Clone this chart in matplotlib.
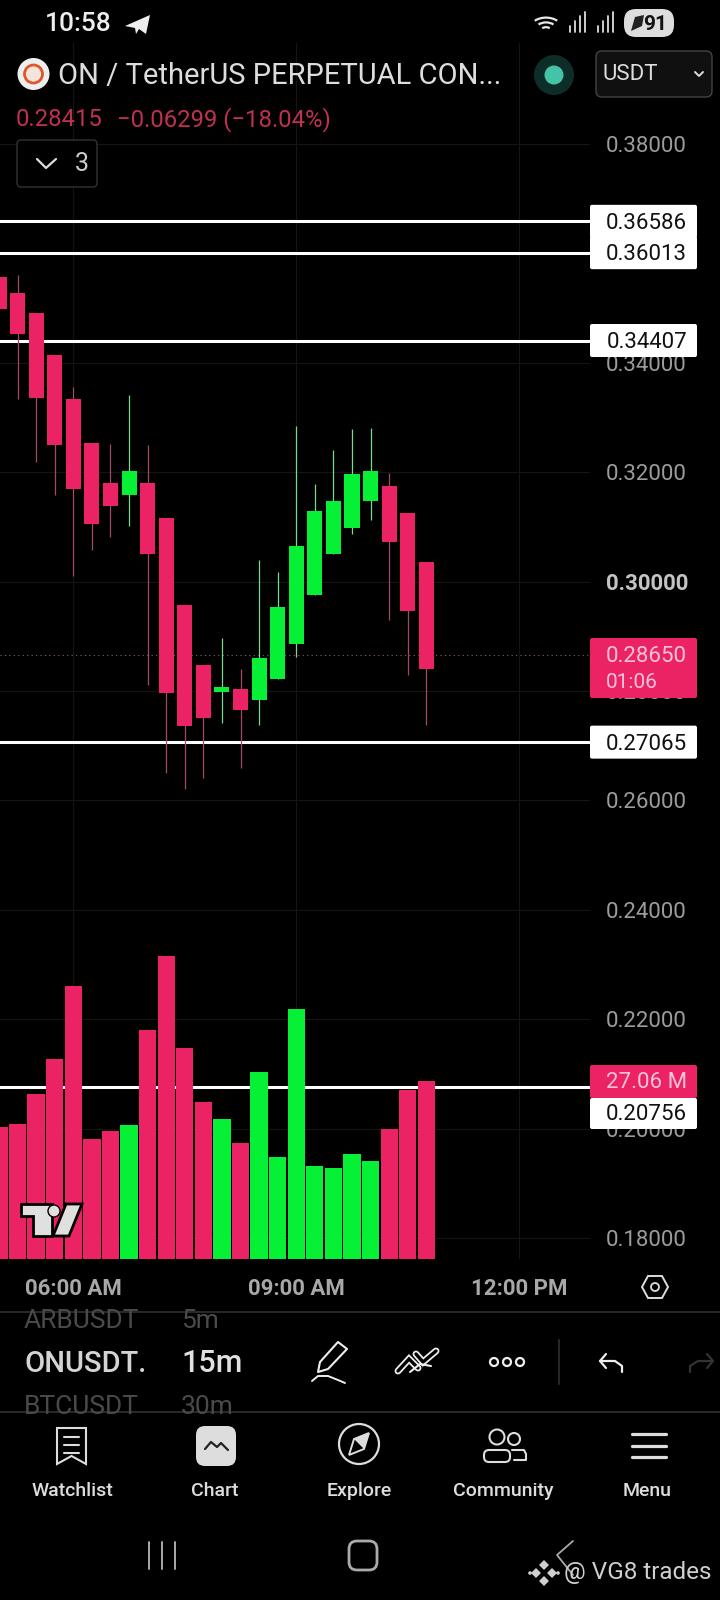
import matplotlib
matplotlib.use('Agg')
import matplotlib.pyplot as plt
from matplotlib.patches import Rectangle, FancyBboxPatch, Circle, Polygon, Arc

plt.rcParams['font.family'] = ['Roboto', 'DejaVu Sans']

### data (15m bars)
bar_idx = list(range(24))
opens = [.35577, .35275, .34910, .34135, .33330, .32537, .31800, .31586, .31800, .31164, .29571, .28476,
         .27985, .28035, .27840, .28218, .28866, .29760, .30503, .30982, .31473, .31750, .31252, .30358]
highs = [.35690, .35609, .34910, .34135, .33550, .32537, .32518, .33412, .32499, .31164, .29571, .28476,
         .28967, .28401, .30396, .30176, .32845, .31788, .32404, .32788, .32807, .31989, .31252, .30358]
lows = [.34872, .33330, .32184, .31580, .30100, .30572, .30812, .31019, .28105, .26499, .26216, .26417,
        .27412, .26600, .27381, .28218, .28627, .29760, .30503, .30875, .31126, .29301, .28293, .27381]
closes = [.34979, .34532, .33361, .32499, .31699, .31051, .31385, .32020, .30503, .27972, .27368, .27506,
          .28073, .27651, .28602, .29534, .30654, .31290, .31473, .31970, .32020, .30724, .29464, .28401]
volumes = [20.1, 20.5, 25.1, 30.4, 41.5, 18.2, 19.4, 20.4, 34.8, 46.1, 32.1, 23.9,
           21.3, 17.7, 28.4, 15.5, 38.0, 14.1, 13.8, 16.0, 14.9, 19.8, 25.7, 27.06]

price_ticks = [0.18, 0.20, 0.22, 0.24, 0.26, 0.28, 0.30, 0.32, 0.34, 0.36, 0.38]
time_ticks = [4, 16, 28]
time_labels = ['06:00 AM', '09:00 AM', '12:00 PM']
levels = [0.36586, 0.36013, 0.34407, 0.27065, 0.20756]
last_price = 0.28650

RED = '#EB2264'
GREEN = '#06F135'
WICK_RED = '#A34A63'
WICK_GREEN = '#7BD88C'
GRID = '#141414'

fig = plt.figure(figsize=(7.2, 16), dpi=100, facecolor='black')

### price panel, px frame x 0-590, y 43-1259
ax = fig.add_axes([0, (1600 - 1259) / 1600, 590 / 720, (1259 - 43) / 1600], facecolor='black')
ax.set_xlim(0.055, 31.81)
ax.set_ylim(0.17616, 0.39846)
for s in ax.spines.values():
    s.set_visible(False)

ax.axhline(last_price, color='#8A5A68', lw=0.8, ls=(0, (1, 3)), zorder=1)
for lv in levels:
    ax.axhline(lv, color='white', lw=2.2, zorder=2)

colors = [GREEN if c > o else RED for o, c in zip(opens, closes)]
wick_colors = [WICK_GREEN if c > o else WICK_RED for o, c in zip(opens, closes)]
ax.vlines(bar_idx, lows, highs, colors=wick_colors, lw=0.9, zorder=3)
ax.bar(bar_idx, [abs(c - o) for o, c in zip(opens, closes)], bottom=[min(o, c) for o, c in zip(opens, closes)],
       width=0.81, color=colors, zorder=4)

### volume on the same frame
vol = ax.twinx()
vol.set_ylim(0, (1259 - 43) / 6.578)
vol.bar(bar_idx, volumes, width=0.93, color=colors, zorder=4)
vol.set_yticks([])
for s in vol.spines.values():
    s.set_visible(False)
vol.patch.set_visible(False)

# twinx moves the price ticks back to the left, so set them after it
ax.yaxis.tick_right()
ax.set_yticks(price_ticks)
ax.set_yticklabels(['%.5f' % p for p in price_ticks], fontsize=16, color='#9C9C9C')
ax.set_xticks(time_ticks)
ax.set_xticklabels(time_labels, fontsize=16, color='#A8A8A8', fontweight='bold')
ax.tick_params(axis='y', length=0, pad=11.5)
ax.tick_params(axis='x', length=0, pad=14)
ax.grid(True, color=GRID, lw=0.8)
ax.set_axisbelow(True)
for lab, p in zip(ax.get_yticklabels(), price_ticks):
    if p == 0.30:
        lab.set_fontweight('bold')
        lab.set_color('#C4C4C4')

### everything around the chart, in screen px
ui = fig.add_axes([0, 0, 1, 1], zorder=10)
ui.set_xlim(0, 720)
ui.set_ylim(1600, 0)
ui.axis('off')


def price_y(p):
    y_fig = ax.transData.transform((1, p))[1]
    return ui.transData.inverted().transform((0, y_fig))[1]


def txt(x, y, s, size, color='#DDDDDD', ha='left', weight='normal', clip=None):
    t = ui.text(x, y + 2, s, fontsize=size, color=color, ha=ha, va='center', fontweight=weight, zorder=8)
    if clip is not None:
        t.set_clip_path(clip)
    return t


def rbox(x0, y0, x1, y1, face, edge='none', r=3, lw=1, z=5):
    p = FancyBboxPatch((x0 + r, y0 + r), x1 - x0 - 2 * r, y1 - y0 - 2 * r, boxstyle='round,pad=%d,rounding_size=%d' % (r, r),
                       fc=face, ec=edge, lw=lw, zorder=z)
    ui.add_patch(p)
    return p


def line(xs, ys, color='#E0E0E0', lw=1.5):
    ui.plot(xs, ys, color=color, lw=lw, solid_capstyle='round', solid_joinstyle='round', zorder=7)


def hollow(xs, ys):
    ui.plot(xs, ys, color='#EEEEEE', lw=5, solid_capstyle='round', solid_joinstyle='miter', zorder=6)
    ui.plot(xs, ys, color='black', lw=2.4, solid_capstyle='round', solid_joinstyle='miter', zorder=6)


### labels on the price scale
for lv in levels[:4]:
    yy = price_y(lv)
    rbox(590, yy - 16.5, 697, yy + 16.5, 'white', r=2)
    txt(687, yy, '%.5f' % lv, 16, '#111111', ha='right')
rbox(590, 638, 697, 698, RED, r=2)
txt(687, 655, '%.5f' % last_price, 16, '#F9C4D8', ha='right')
txt(606, 681, '01:06', 15, '#F9C4D8')
rbox(590, 1098, 697, 1129, 'white', r=2)
txt(687, 1113, '%.5f' % levels[4], 16, '#111111', ha='right')
rbox(590, 1065, 697, 1098, RED, r=2)
txt(687, 1081, '%.2f M' % volumes[-1], 16, '#F9C4D8', ha='right')

### status bar
txt(45, 22, '10:58', 19, '#EEEEEE', weight='medium')
ui.add_patch(Polygon([[125, 26], [150, 15], [146, 34], [139, 29], [136, 34], [135, 28]], fc='#EEEEEE', ec='none'))
for r in [6, 12, 18]:
    ui.add_patch(Arc((546, 32), 2 * r, 1.6 * r, theta1=225, theta2=315, color='#E8E8E8', lw=1.6))
for x0 in [570, 598]:
    for i, h in enumerate([6, 11, 16, 20]):
        line([x0 + i * 5, x0 + i * 5], [32, 32 - h], '#DDDDDD', 1.3)
rbox(624, 9, 674, 37, '#DDDDDD', r=12)
txt(655, 22, '91', 15, '#111111', ha='center', weight='bold')
ui.add_patch(Polygon([[631, 31], [635, 17], [644, 15], [642, 26]], fc='#222222', ec='none', zorder=8))

### header
ui.add_patch(Circle((33.5, 74), 16, fc='#EEEEEE', ec='none'))
ui.add_patch(Circle((33.5, 74), 9, fc='#F4E4DC', ec='#E0562B', lw=2))
txt(58, 74, 'ON / TetherUS PERPETUAL CON...', 21, '#DDDDDD')
txt(16, 118, '0.28415', 17.2, '#C0304F')
txt(117, 118, '\u22120.06299 (\u221218.04%)', 17.2, '#C0304F')
ui.add_patch(Circle((554, 75), 20, fc='#0E2C28', ec='none'))
ui.add_patch(Circle((554, 75), 9.5, fc='#45C3A8', ec='none'))
rbox(596, 51, 712, 97, '#101010', '#444444', r=6)
txt(603, 72, 'USDT', 16, '#DDDDDD')
line([695, 699, 703], [72, 76, 72], '#DDDDDD', 1.4)
rbox(17, 140, 97, 187, 'black', '#333333', r=4)
line([37, 46, 56], [159, 168, 159], '#DDDDDD', 1.6)
txt(75, 162, '3', 18, '#CCCCCC')

### tradingview mark over the volume bars
ui.add_patch(Polygon([[21, 1204], [52, 1204], [52, 1236], [33, 1236], [33, 1216], [21, 1216]], fc='#E0E0E0', ec='black', lw=2))
ui.add_patch(Circle((54, 1211), 6, fc='#E0E0E0', ec='black', lw=1))
ui.add_patch(Polygon([[66, 1204], [82, 1204], [69, 1236], [53, 1236]], fc='#E0E0E0', ec='black', lw=2))

### scale settings icon
ui.add_patch(Polygon([[642, 1287], [648, 1276], [662, 1276], [668, 1287], [662, 1298], [648, 1298]], fc='none', ec='#DDDDDD', lw=1.4))
ui.add_patch(Circle((655, 1287), 4, fc='none', ec='#DDDDDD', lw=1.3))

### toolbar
ui.plot([0, 720], [1312, 1312], color='#2A2A2A', lw=1.4)
ui.plot([0, 720], [1412, 1412], color='#2A2A2A', lw=1.4)
strip = Rectangle((0, 1313), 720, 98, transform=ui.transData)
txt(24, 1319, 'ARBUSDT', 19, '#4A4A4A', clip=strip)
txt(181, 1319, '5m', 19, '#4A4A4A', clip=strip)
txt(24, 1362, 'ONUSDT.', 21, '#D4D4D4', weight='medium')
txt(181, 1362, '15m', 22, '#E0E0E0', weight='medium')
txt(24, 1405, 'BTCUSDT', 19, '#4A4A4A', clip=strip)
txt(181, 1405, '30m', 19, '#4A4A4A', clip=strip)

ui.add_patch(Polygon([[318, 1372], [320, 1362], [338, 1342], [347, 1349], [328, 1369]], fc='none', ec='#EEEEEE', lw=1.5, joinstyle='round'))
line([312, 318, 328, 338, 345], [1381, 1376, 1376, 1380, 1383], '#EEEEEE', 1.4)
hollow([398, 409, 418], [1371, 1359, 1368])
hollow([416, 423, 436], [1354, 1362, 1351])
line([410, 420, 431], [1372, 1364, 1366], '#EEEEEE', 1.5)
for x0 in [494, 507, 520]:
    ui.add_patch(Circle((x0, 1362), 4, fc='none', ec='#EEEEEE', lw=1.6))
ui.plot([559, 559], [1340, 1384], color='#2F2F2F', lw=1.2)
line([606, 600, 606], [1354, 1361, 1368], '#EEEEEE', 1.6)
line([600, 615, 622, 622], [1361, 1361, 1366, 1372], '#EEEEEE', 1.6)
line([707, 713, 707], [1354, 1361, 1368], '#333333', 1.6)
line([713, 698, 690, 690], [1361, 1361, 1366, 1372], '#333333', 1.6)

### nav bar
nav_names = ['Watchlist', 'Chart', 'Explore', 'Community', 'Menu']
nav_x = [72, 215, 359, 503, 647]
for name, x0 in zip(nav_names, nav_x):
    txt(x0, 1489, name, 14, '#DDDDDD', ha='center', weight='medium')

ui.add_patch(Polygon([[57, 1428], [86, 1428], [86, 1464], [71.5, 1456], [57, 1464]], fc='none', ec='#DDDDDD', lw=1.5))
for yy in [1437, 1445, 1453]:
    line([64, 79], [yy, yy], '#DDDDDD', 1.5)
rbox(196, 1426, 236, 1466, '#DDDDDD', r=9)
line([205, 211, 217, 221, 228], [1449, 1442, 1447, 1443, 1450], '#222222', 1.6)
ui.add_patch(Circle((359, 1444), 20, fc='none', ec='#DDDDDD', lw=1.6))
ui.add_patch(Polygon([[349, 1455], [354, 1439], [369, 1433], [364, 1449]], fc='none', ec='#DDDDDD', lw=1.4))
ui.add_patch(Polygon([[354, 1439], [369, 1433], [364, 1449]], fc='#DDDDDD', ec='none'))
ui.add_patch(Circle((497, 1437), 7.5, fc='none', ec='#DDDDDD', lw=1.5))
ui.add_patch(Circle((514, 1439), 6, fc='none', ec='#DDDDDD', lw=1.5))
rbox(484, 1450, 510, 1462, 'none', '#DDDDDD', r=5, lw=1.5)
line([512, 524, 526, 526, 514], [1450, 1450, 1454, 1460, 1460], '#DDDDDD', 1.5)
for yy in [1434, 1446, 1457]:
    line([632, 666], [yy, yy], '#DDDDDD', 2.3)

### android buttons
for x0 in [149, 162, 175]:
    line([x0, x0], [1542, 1569], '#AAAAAA', 1.4)
rbox(349, 1541, 377, 1570, 'none', '#AAAAAA', r=8, lw=2)
line([573, 557, 573], [1541, 1555, 1575], '#AAAAAA', 1.3)
txt(564, 1571, '@ VG8 trades', 17.5, '#CFCFCF')
for cx, cy in [(544, 1565), (536, 1573), (552, 1573), (544, 1581)]:
    ui.add_patch(Polygon([[cx, cy - 5], [cx + 5, cy], [cx, cy + 5], [cx - 5, cy]], fc='#CFCFCF', ec='none'))
ui.add_patch(Circle((530, 1573), 1.8, fc='#CFCFCF', ec='none'))
ui.add_patch(Circle((558, 1573), 1.8, fc='#CFCFCF', ec='none'))

fig.savefig('out.png', dpi=100, facecolor='black')
